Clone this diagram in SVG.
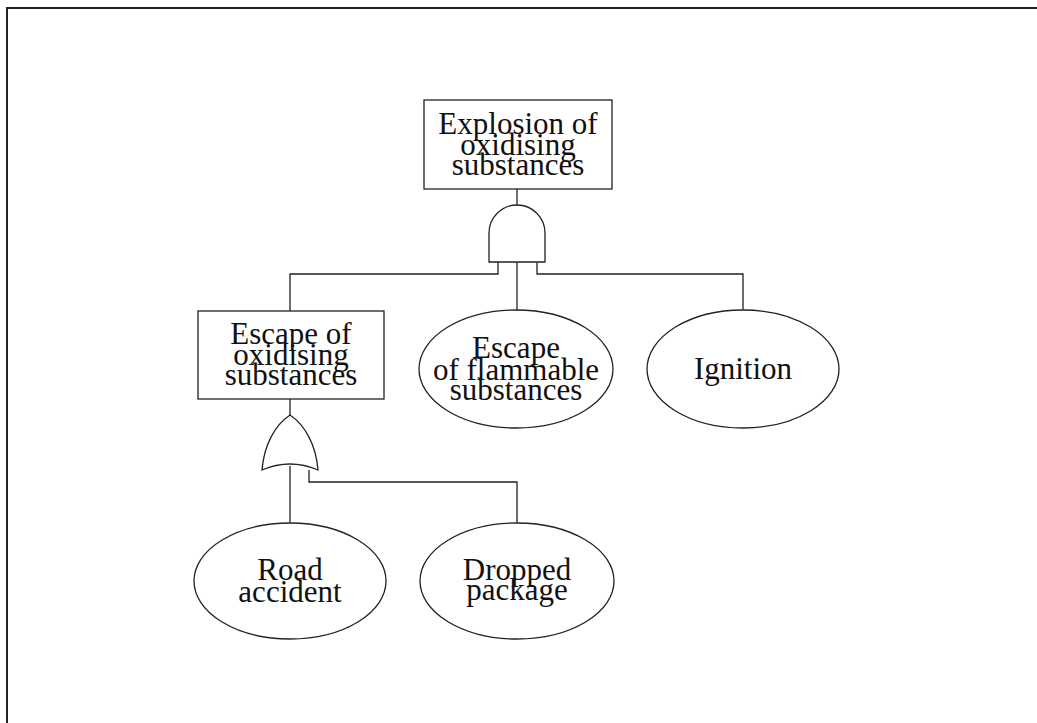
<svg xmlns="http://www.w3.org/2000/svg" width="1037" height="723" viewBox="0 0 1037 723">
<style>
.shape{fill:#fff;stroke:#222;stroke-width:1.3}
.conn{fill:none;stroke:#222;stroke-width:1.3}
.t{font-family:"Liberation Serif","Times New Roman",serif;font-size:31px;fill:#111;text-anchor:middle}
</style>
<rect width="1037" height="723" fill="#fff"/>
<path d="M7 723 V8 H1037" fill="none" stroke="#222" stroke-width="2"/>
<g id="connectors">
<path class="conn" d="M517 189 V205"/>
<path class="conn" d="M498 262 V274 H290 V311"/>
<path class="conn" d="M537 262 V274 H743 V310"/>
<path class="conn" d="M517 262 V311"/>
<path class="conn" d="M290 399 V415"/>
<path class="conn" d="M290 466 V523"/>
<path class="conn" d="M309 470 V482 H517 V523"/>
</g>
<g id="top-event">
<rect class="shape" x="424" y="100" width="188" height="89"/>
<text class="t" x="518" y="134">Explosion of</text>
<text class="t" x="518" y="155">oxidising</text>
<text class="t" x="518" y="175">substances</text>
</g>
<g id="and-gate">
<path class="shape" d="M489 262 V233 A28 28 0 0 1 545 233 V262 Z"/>
</g>
<g id="escape-oxidising">
<rect class="shape" x="198" y="311" width="186" height="88"/>
<text class="t" x="291" y="344">Escape of</text>
<text class="t" x="291" y="365">oxidising</text>
<text class="t" x="291" y="385">substances</text>
</g>
<g id="or-gate">
<path class="shape" d="M290 415 C305 425 316 445 318 470 Q290 458 262 470 C264 445 275 425 290 415 Z"/>
</g>
<g id="escape-flammable">
<ellipse class="shape" cx="516" cy="369" rx="97" ry="59"/>
<text class="t" x="516" y="358">Escape</text>
<text class="t" x="516" y="380">of flammable</text>
<text class="t" x="516" y="400">substances</text>
</g>
<g id="ignition">
<ellipse class="shape" cx="743" cy="369" rx="96" ry="59"/>
<text class="t" x="743" y="379">Ignition</text>
</g>
<g id="road-accident">
<ellipse class="shape" cx="290" cy="581" rx="96" ry="58"/>
<text class="t" x="290" y="580">Road</text>
<text class="t" x="290" y="602">accident</text>
</g>
<g id="dropped-package">
<ellipse class="shape" cx="517" cy="581" rx="97" ry="58"/>
<text class="t" x="517" y="580">Dropped</text>
<text class="t" x="517" y="600">package</text>
</g>
</svg>
